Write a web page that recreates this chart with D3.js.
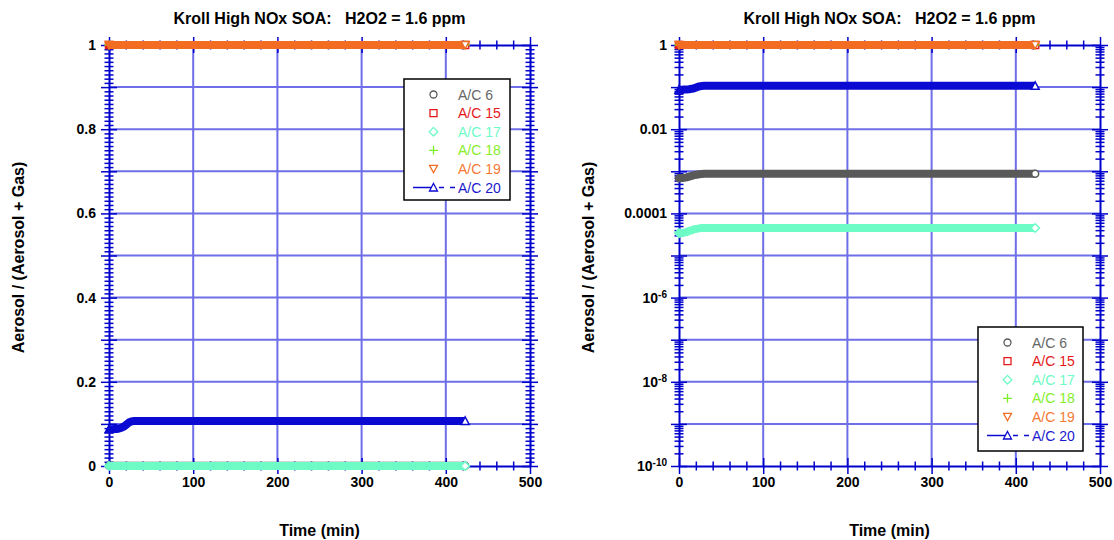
<!DOCTYPE html>
<html>
<head>
<meta charset="utf-8">
<script src="https://cdn.jsdelivr.net/npm/d3@7"></script>
<style>
body { margin: 0; background: #fff; }
svg { display: block; }
</style>
</head>
<body>
<svg id="chart" width="1114" height="540"></svg>
<script>
// sample times (min)
var times = [0, 3, 6, 9, 12, 15, 18, 21, 24, 27, 30,
  40, 50, 60, 70, 80, 90, 100, 110, 120, 130, 140, 150, 160, 170, 180, 190, 200,
  210, 220, 230, 240, 250, 260, 270, 280, 290, 300, 310, 320, 330, 340, 350, 360,
  370, 380, 390, 400, 410, 420, 423];

// aerosol / (aerosol + gas) for each compound
var ac6 = [6.8e-4, 6.9e-4, 7.0e-4, 7.2e-4, 7.5e-4, 7.8e-4, 8.1e-4, 8.3e-4, 8.5e-4, 8.6e-4, 8.7e-4,
  8.7e-4, 8.7e-4, 8.7e-4, 8.7e-4, 8.7e-4, 8.7e-4, 8.7e-4, 8.7e-4, 8.7e-4, 8.7e-4, 8.7e-4, 8.7e-4, 8.7e-4,
  8.7e-4, 8.7e-4, 8.7e-4, 8.7e-4, 8.7e-4, 8.7e-4, 8.7e-4, 8.7e-4, 8.7e-4, 8.7e-4, 8.7e-4, 8.7e-4, 8.7e-4,
  8.7e-4, 8.7e-4, 8.7e-4, 8.7e-4, 8.7e-4, 8.7e-4, 8.7e-4, 8.7e-4, 8.7e-4, 8.7e-4, 8.7e-4, 8.7e-4, 8.7e-4, 8.7e-4];
var ac15 = [1, 1, 1, 1, 1, 1, 1, 1, 1, 1, 1, 1, 1, 1, 1, 1, 1, 1, 1, 1, 1, 1, 1, 1, 1, 1,
  1, 1, 1, 1, 1, 1, 1, 1, 1, 1, 1, 1, 1, 1, 1, 1, 1, 1, 1, 1, 1, 1, 1, 1, 1];
var ac17 = [3.4e-5, 3.4e-5, 3.5e-5, 3.6e-5, 3.8e-5, 4.0e-5, 4.2e-5, 4.3e-5, 4.4e-5, 4.5e-5, 4.5e-5,
  4.5e-5, 4.5e-5, 4.5e-5, 4.5e-5, 4.5e-5, 4.5e-5, 4.5e-5, 4.5e-5, 4.5e-5, 4.5e-5, 4.5e-5, 4.5e-5, 4.5e-5,
  4.5e-5, 4.5e-5, 4.5e-5, 4.5e-5, 4.5e-5, 4.5e-5, 4.5e-5, 4.5e-5, 4.5e-5, 4.5e-5, 4.5e-5, 4.5e-5, 4.5e-5,
  4.5e-5, 4.5e-5, 4.5e-5, 4.5e-5, 4.5e-5, 4.5e-5, 4.5e-5, 4.5e-5, 4.5e-5, 4.5e-5, 4.5e-5, 4.5e-5, 4.5e-5, 4.5e-5];
var ac18 = [1, 1, 1, 1, 1, 1, 1, 1, 1, 1, 1, 1, 1, 1, 1, 1, 1, 1, 1, 1, 1, 1, 1, 1, 1, 1,
  1, 1, 1, 1, 1, 1, 1, 1, 1, 1, 1, 1, 1, 1, 1, 1, 1, 1, 1, 1, 1, 1, 1, 1, 1];
var ac19 = [1, 1, 1, 1, 1, 1, 1, 1, 1, 1, 1, 1, 1, 1, 1, 1, 1, 1, 1, 1, 1, 1, 1, 1, 1, 1,
  1, 1, 1, 1, 1, 1, 1, 1, 1, 1, 1, 1, 1, 1, 1, 1, 1, 1, 1, 1, 1, 1, 1, 1, 1];
var ac20 = [0.087, 0.087, 0.088, 0.088, 0.089, 0.091, 0.094, 0.099, 0.104, 0.106, 0.107,
  0.107, 0.107, 0.107, 0.107, 0.107, 0.107, 0.107, 0.107, 0.107, 0.107, 0.107, 0.107, 0.107,
  0.107, 0.107, 0.107, 0.107, 0.107, 0.107, 0.107, 0.107, 0.107, 0.107, 0.107, 0.107, 0.107,
  0.107, 0.107, 0.107, 0.107, 0.107, 0.107, 0.107, 0.107, 0.107, 0.107, 0.107, 0.107, 0.107, 0.107];

var seriesNames = ["A/C 6", "A/C 15", "A/C 17", "A/C 18", "A/C 19", "A/C 20"];
var seriesValues = [ac6, ac15, ac17, ac18, ac19, ac20];

// tick labels
var xMajor = [0, 100, 200, 300, 400, 500];
var xLabels = ["0", "100", "200", "300", "400", "500"];
var linLabelVals = [0, 0.2, 0.4, 0.6, 0.8, 1];
var linLabels = ["0", "0.2", "0.4", "0.6", "0.8", "1"];
var logLabelVals = [1e-10, 1e-8, 1e-6, 1e-4, 1e-2, 1];
var logLabels = [["10", "-10"], ["10", "-8"], ["10", "-6"], ["0.0001"], ["0.01"], ["1"]];

var colors = ["#595959", "#e3191c", "#6dfbc6", "#7ef02a", "#f26c22", "#0a0ad2"];
var textColors = ["#666666", "#e3191c", "#6dfbc6", "#86ee2c", "#f47a35", "#1a1acc"];
var markers = ["circle", "square", "diamond", "plus", "tridown", "triup"];

var FONT = "Arial, 'Liberation Sans', sans-serif";
var axisColor = "#0000cc", gridColor = "#4a4ae4";
var size = 421;

var svg = d3.select("#chart");

function markerPath(type) {
  if (type === "circle") return "M3.5,0A3.5,3.5 0 1,1 -3.5,0A3.5,3.5 0 1,1 3.5,0Z";
  if (type === "square") return "M-3.5,-3.5H3.5V3.5H-3.5Z";
  if (type === "diamond") return "M0,-4.3L4.3,0L0,4.3L-4.3,0Z";
  if (type === "plus") return "M-4.5,0H4.5M0,-4.5V4.5";
  if (type === "tridown") return "M-4,-3.5H4L0,3.8Z";
  return "M0,-4L4,3.5H-4Z";
}

function crossTicks(sel) {
  sel.selectAll(".tick line").each(function() {
    var l = d3.select(this);
    ["x", "y"].forEach(function(k) {
      var v = +l.attr(k + "2");
      if (v) l.attr(k + "1", -v);
    });
  });
}

var panels = [
  {left: 109, top: 45, log: false, legend: [404, 79, 106, 121]},
  {left: 679, top: 45, log: true, legend: [978, 327, 105, 124]}
];

panels.forEach(function(p) {
  var g = svg.append("g").attr("transform", "translate(" + p.left + "," + p.top + ")");
  var x = d3.scaleLinear().domain([0, 500]).range([0, size]);
  var y = p.log ? d3.scaleLog().domain([1e-10, 1]).range([size, 0])
                : d3.scaleLinear().domain([0, 1]).range([size, 0]);

  var xMinor = d3.range(0, 501, 20).filter(function(d) { return d % 100 !== 0; });
  var yMajor, yMinor;
  if (p.log) {
    yMajor = d3.range(-10, 1).map(function(e) { return Math.pow(10, e); });
    yMinor = [];
    d3.range(-10, 0).forEach(function(e) {
      for (var k = 2; k <= 9; k++) yMinor.push(k * Math.pow(10, e));
    });
  } else {
    yMajor = d3.range(0, 11).map(function(i) { return i / 10; });
    yMinor = d3.range(0, 101).filter(function(i) { return i % 10 !== 0; }).map(function(i) { return i / 100; });
  }

  // grid
  var grid = g.append("g").attr("stroke", gridColor).attr("stroke-width", 2).attr("opacity", 0.8);
  grid.selectAll(".vg").data(xMajor.slice(1, -1)).enter().append("line")
    .attr("x1", function(d) { return x(d); }).attr("x2", function(d) { return x(d); })
    .attr("y1", 0).attr("y2", size);
  grid.selectAll(".hg").data(yMajor.slice(1, -1)).enter().append("line")
    .attr("y1", function(d) { return y(d); }).attr("y2", function(d) { return y(d); })
    .attr("x1", 0).attr("x2", size);

  // axes on all four sides, ticks crossing the frame
  var sides = [
    {gen: d3.axisBottom, scale: x, t: "translate(0," + size + ")", maj: xMajor, min: xMinor},
    {gen: d3.axisTop, scale: x, t: "translate(0,0)", maj: xMajor, min: xMinor},
    {gen: d3.axisLeft, scale: y, t: "translate(0,0)", maj: yMajor, min: yMinor},
    {gen: d3.axisRight, scale: y, t: "translate(" + size + ",0)", maj: yMajor, min: yMinor}
  ];
  sides.forEach(function(s) {
    var gMin = g.append("g").attr("transform", s.t)
      .call(s.gen(s.scale).tickValues(s.min).tickSize(4.5).tickSizeOuter(0).tickFormat(function() { return ""; }));
    var gMaj = g.append("g").attr("transform", s.t)
      .call(s.gen(s.scale).tickValues(s.maj).tickSize(8).tickSizeOuter(0).tickFormat(function() { return ""; }));
    [gMin, gMaj].forEach(function(a) {
      a.selectAll(".tick line").attr("stroke", axisColor).attr("stroke-width", 1.5);
      crossTicks(a);
    });
    gMin.select(".domain").remove();
    gMaj.select(".domain").attr("stroke", axisColor).attr("stroke-width", 2);
  });

  // tick labels
  var xl = g.append("g").attr("transform", "translate(0," + size + ")")
    .call(d3.axisBottom(x).tickValues(xMajor).tickSize(0).tickPadding(11)
      .tickFormat(function(d, i) { return xLabels[i]; }));
  xl.select(".domain").remove();
  var yl;
  if (p.log) {
    yl = g.append("g").call(d3.axisLeft(y).tickValues(logLabelVals).tickSize(0).tickPadding(12)
      .tickFormat(function() { return ""; }));
    yl.selectAll(".tick text").each(function(d, i) {
      var t = d3.select(this), lab = logLabels[i];
      t.append("tspan").text(lab[0]);
      if (lab.length > 1) t.append("tspan").attr("dy", "-0.5em").attr("font-size", 10).text(lab[1]);
    });
  } else {
    yl = g.append("g").call(d3.axisLeft(y).tickValues(linLabelVals).tickSize(0).tickPadding(13)
      .tickFormat(function(d, i) { return linLabels[i]; }));
  }
  yl.select(".domain").remove();
  [xl, yl].forEach(function(a) {
    a.attr("font-family", FONT).attr("font-size", 14).attr("font-weight", "bold")
      .selectAll("text").attr("fill", "#000");
  });

  // data: dense markers merge into a band, the end markers stay visible
  seriesValues.forEach(function(vals, si) {
    var pts = times.map(function(t, i) { return [x(t), y(vals[i])]; });
    var sg = g.append("g");
    sg.append("path").attr("d", d3.line()(pts)).attr("fill", "none")
      .attr("stroke", colors[si]).attr("stroke-width", 8).attr("stroke-linejoin", "round");
    var ends = [pts[0], pts[pts.length - 1]];
    sg.selectAll("path.m").data(ends).enter().append("path").attr("class", "m")
      .attr("transform", function(d) { return "translate(" + d[0] + "," + d[1] + ")"; })
      .attr("d", markerPath(markers[si]))
      .attr("fill", function(d, i) { return i === 1 ? "#fff" : colors[si]; })
      .attr("stroke", colors[si]).attr("stroke-width", 1.5);
  });

  // titles
  svg.append("text").attr("x", p.left + size / 2).attr("y", 24)
    .attr("text-anchor", "middle").attr("font-family", FONT).attr("font-size", 16).attr("font-weight", "bold")
    .attr("xml:space", "preserve").style("white-space", "pre")
    .text("Kroll High NOx SOA:   H2O2 = 1.6 ppm");
  svg.append("text").attr("x", p.left + size / 2).attr("y", 536)
    .attr("text-anchor", "middle").attr("font-family", FONT).attr("font-size", 16).attr("font-weight", "bold")
    .text("Time (min)");
  svg.append("text").attr("transform", "translate(" + (p.left - 85) + "," + (p.top + size / 2 + 2) + ") rotate(-90)")
    .attr("text-anchor", "middle").attr("font-family", FONT).attr("font-size", 16).attr("font-weight", "bold")
    .text("Aerosol / (Aerosol + Gas)");

  // legend
  var L = p.legend;
  var lg = svg.append("g").attr("transform", "translate(" + L[0] + "," + L[1] + ")");
  lg.append("rect").attr("width", L[2]).attr("height", L[3]).attr("fill", "#fff")
    .attr("stroke", "#000").attr("stroke-width", 1.5);
  seriesNames.forEach(function(name, i) {
    var ry = 15.5 + i * 18.6;
    if (i === 5) {
      lg.append("line").attr("x1", 9).attr("x2", 29).attr("y1", ry).attr("y2", ry)
        .attr("stroke", colors[i]).attr("stroke-width", 1.5);
      lg.append("line").attr("x1", 35).attr("x2", 52).attr("y1", ry).attr("y2", ry)
        .attr("stroke", colors[i]).attr("stroke-width", 1.5).attr("stroke-dasharray", "5,6");
    }
    lg.append("path").attr("transform", "translate(29.5," + ry + ")").attr("d", markerPath(markers[i]))
      .attr("fill", i === 5 ? "#fff" : "none").attr("stroke", colors[i]).attr("stroke-width", 1.3);
    lg.append("text").attr("x", 54).attr("y", ry + 5).attr("font-family", FONT).attr("font-size", 14)
      .attr("fill", textColors[i]).text(name);
  });
});
</script>
</body>
</html>
